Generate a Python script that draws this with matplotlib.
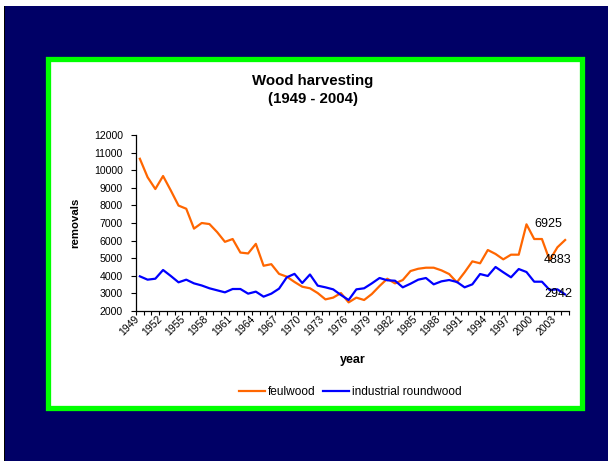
import numpy as np
import matplotlib
matplotlib.use("Agg")
import matplotlib.pyplot as plt
from matplotlib.patches import Rectangle
from matplotlib.transforms import ScaledTranslation

plt.rcParams['font.family'] = ['Liberation Sans', 'DejaVu Sans']

# data
years = list(range(1949, 2005))
feulwood = [10650, 9600, 8930, 9670, 8850, 7990, 7810, 6680, 7000, 6940,
            6480, 5930, 6090, 5320, 5270, 5815, 4570, 4660, 4110, 3950,
            3650, 3380, 3290, 3020, 2660, 2760, 3020, 2490, 2760, 2625,
            2965, 3420, 3835, 3570, 3760, 4270, 4400, 4460, 4460, 4310,
            4100, 3630, 4200, 4820, 4710, 5465, 5240, 4935, 5200, 5200,
            6925, 6090, 6090, 4883, 5620, 6034]
industrial = [3970, 3780, 3835, 4330, 3990, 3630, 3780, 3570, 3450, 3290,
              3175, 3060, 3250, 3250, 2985, 3100, 2815, 2985, 3270, 3915,
              4110, 3590, 4075, 3440, 3345, 3230, 2910, 2625, 3230, 3290,
              3570, 3875, 3745, 3720, 3345, 3550, 3780, 3875, 3515, 3685,
              3760, 3650, 3345, 3515, 4100, 3990, 4500, 4200, 3915, 4385,
              4215, 3665, 3665, 3195, 3230, 2942]
yticks = list(range(2000, 13000, 1000))

W, H = 608, 461
fig = plt.figure(figsize=(W / 100, H / 100), dpi=100)
fig.patch.set_facecolor('white')

def fx(px):
    return px / W

def fy(py):
    return 1 - py / H

# navy slide background + green frame
fig.patches.append(Rectangle((fx(4), 0), fx(W - 4), fy(6), transform=fig.transFigure,
                             facecolor='#000066', edgecolor='none', zorder=-3))
fig.patches.append(Rectangle((fx(3.5), 0), fx(1.2), fy(6), transform=fig.transFigure,
                             facecolor='black', edgecolor='none', zorder=-3))
fig.patches.append(Rectangle((fx(47.5), fy(407.5)), fx(582 - 47.5), fy(59) - fy(407.5),
                             transform=fig.transFigure, facecolor='white',
                             edgecolor='#00FF00', linewidth=3.8, zorder=-2))

ax = fig.add_axes([fx(136), fy(311), fx(569 - 136), fy(135) - fy(311)])
ax.set_zorder(2)
ax.set_facecolor('none')

x = np.arange(len(years))
ax.plot(x, feulwood, color='#FF6600', lw=1.6, label='feulwood')
ax.plot(x, industrial, color='#0000FF', lw=1.6, label='industrial roundwood')

ax.set_xlim(-0.5, len(years) - 0.5)
ax.set_ylim(2000, 12000)
ax.set_yticks(yticks)
ax.set_yticklabels([str(v) for v in yticks], fontsize=7.6)

# category axis: ticks between categories, labels every 3rd year
ax.set_xticks(np.arange(len(years) + 1) - 0.5)
ax.set_xticklabels([])
ax.tick_params(axis='x', direction='out', length=3, width=0.8)
ax.tick_params(axis='y', direction='out', length=3.5, width=0.8, pad=6)

shift = ScaledTranslation(-6 / 100, -3 / 100, fig.dpi_scale_trans)
for i in range(0, len(years), 3):
    ax.text(i, 0, str(years[i]), transform=ax.get_xaxis_transform() + shift,
            fontsize=7.5, rotation=45, ha='right', va='top', rotation_mode='anchor')

for s in ['top', 'right']:
    ax.spines[s].set_visible(False)
for s in ['left', 'bottom']:
    ax.spines[s].set_linewidth(0.9)

# data labels
ax.annotate('6925', xy=(50, feulwood[50]), xytext=(8, 0), textcoords='offset pixels',
            ha='left', va='center', fontsize=9)
ax.annotate('4883', xy=(53, feulwood[53]), xytext=(-6, 0), textcoords='offset pixels',
            ha='left', va='center', fontsize=9)
ax.annotate('2942', xy=(55, industrial[55]), xytext=(7, 0), textcoords='offset pixels',
            ha='right', va='center', fontsize=9)

# titles and axis labels
fig.text(fx(313), fy(80.5), 'Wood harvesting', ha='center', va='center',
         fontsize=10.8, fontweight='bold')
fig.text(fx(313), fy(98.5), '(1949 - 2004)', ha='center', va='center',
         fontsize=10.8, fontweight='bold')
fig.text(fx(75), fy(223), 'removals', ha='center', va='center', rotation=90,
         fontsize=8.2, fontweight='bold')
fig.text(fx(353), fy(360), 'year', ha='center', va='center',
         fontsize=9, fontweight='bold')

ax.legend(loc='center', bbox_to_anchor=(fx(350.5), fy(392)), bbox_transform=fig.transFigure,
          ncol=2, frameon=False, fontsize=8.6, handlelength=2.2, handletextpad=0.25,
          columnspacing=0.6, borderpad=0)

fig.savefig('out.png', dpi=100)
